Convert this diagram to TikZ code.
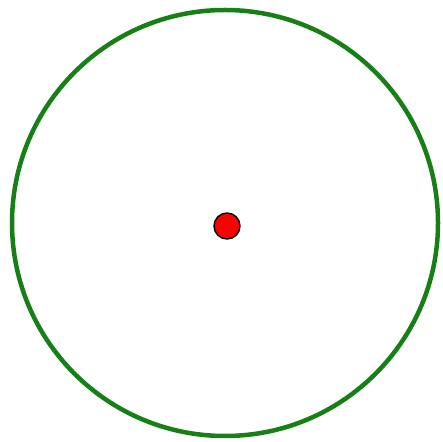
\documentclass[tikz,border=0pt]{standalone}
\usepackage{amsmath}
\usepackage{amssymb}
\usepackage{tikz}
\definecolor{ringgreen}{RGB}{22,128,22}

\begin{document}
\begin{tikzpicture}[x=1pt,y=1pt]
  \useasboundingbox (0,0) rectangle (443,441);
  \coordinate (O) at (225,218); \coordinate (P) at (227,215);
  \draw[ringgreen,line width=4.5pt] (O) circle (213);
  \filldraw[fill=red,draw=black,line width=1.4pt] (P) circle (13);
\end{tikzpicture}
\end{document}
